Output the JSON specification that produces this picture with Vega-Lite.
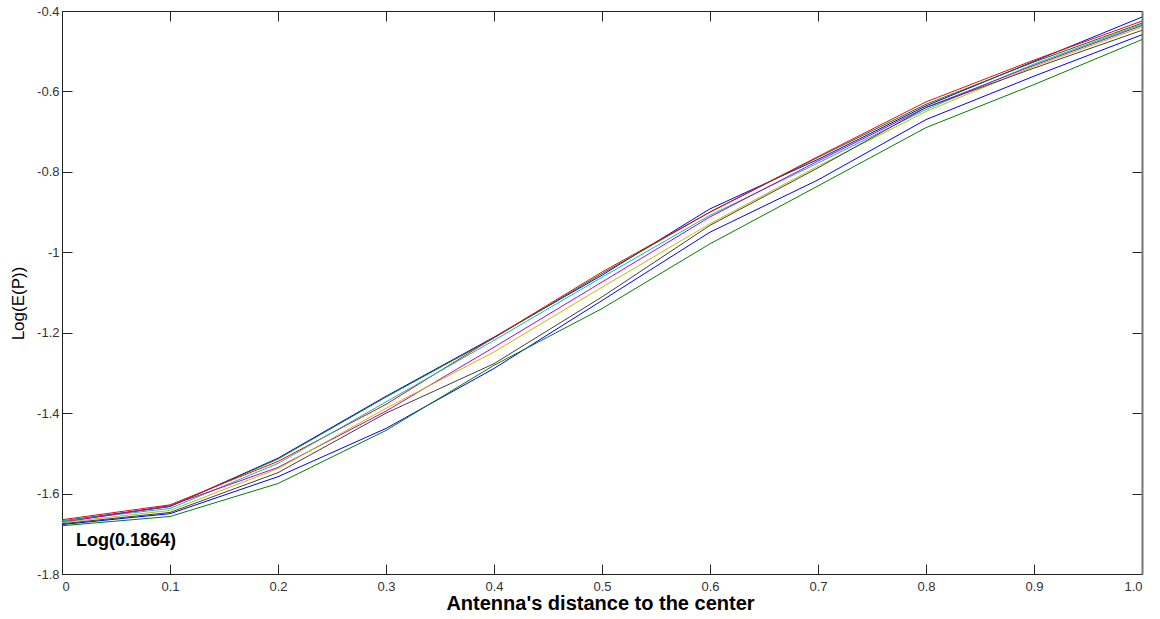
{
  "$schema": "https://vega.github.io/schema/vega-lite/v6.json",
  "width": 1080,
  "height": 563,
  "autosize": {"type": "none"},
  "padding": {"left": 62, "top": 11, "right": 18, "bottom": 45},
  "background": "white",
  "config": {
    "view": {"stroke": null},
    "font": "Arial",
    "axis": {
      "grid": false,
      "domainColor": "#222222",
      "domainWidth": 1,
      "tickColor": "#222222",
      "tickSize": -10,
      "labelFont": "Arial",
      "labelFontSize": 13,
      "labelColor": "#333333",
      "titleFont": "Arial",
      "titleColor": "#000000"
    }
  },
  "datasets": {
    "curves": [
      {"s": "s1", "x": 0.0, "y": -1.668}, {"s": "s1", "x": 0.1, "y": -1.632}, {"s": "s1", "x": 0.2, "y": -1.512}, {"s": "s1", "x": 0.3, "y": -1.358}, {"s": "s1", "x": 0.4, "y": -1.211}, {"s": "s1", "x": 0.5, "y": -1.057}, {"s": "s1", "x": 0.6, "y": -0.892}, {"s": "s1", "x": 0.7, "y": -0.769}, {"s": "s1", "x": 0.8, "y": -0.636}, {"s": "s1", "x": 0.9, "y": -0.525}, {"s": "s1", "x": 1.0, "y": -0.415},
      {"s": "s2", "x": 0.0, "y": -1.670}, {"s": "s2", "x": 0.1, "y": -1.632}, {"s": "s2", "x": 0.2, "y": -1.514}, {"s": "s2", "x": 0.3, "y": -1.360}, {"s": "s2", "x": 0.4, "y": -1.213}, {"s": "s2", "x": 0.5, "y": -1.053}, {"s": "s2", "x": 0.6, "y": -0.900}, {"s": "s2", "x": 0.7, "y": -0.764}, {"s": "s2", "x": 0.8, "y": -0.632}, {"s": "s2", "x": 0.9, "y": -0.527}, {"s": "s2", "x": 1.0, "y": -0.430},
      {"s": "s3", "x": 0.0, "y": -1.665}, {"s": "s3", "x": 0.1, "y": -1.628}, {"s": "s3", "x": 0.2, "y": -1.520}, {"s": "s3", "x": 0.3, "y": -1.378}, {"s": "s3", "x": 0.4, "y": -1.212}, {"s": "s3", "x": 0.5, "y": -1.049}, {"s": "s3", "x": 0.6, "y": -0.900}, {"s": "s3", "x": 0.7, "y": -0.762}, {"s": "s3", "x": 0.8, "y": -0.626}, {"s": "s3", "x": 0.9, "y": -0.522}, {"s": "s3", "x": 1.0, "y": -0.425},
      {"s": "s4", "x": 0.0, "y": -1.668}, {"s": "s4", "x": 0.1, "y": -1.637}, {"s": "s4", "x": 0.2, "y": -1.525}, {"s": "s4", "x": 0.3, "y": -1.372}, {"s": "s4", "x": 0.4, "y": -1.219}, {"s": "s4", "x": 0.5, "y": -1.062}, {"s": "s4", "x": 0.6, "y": -0.908}, {"s": "s4", "x": 0.7, "y": -0.778}, {"s": "s4", "x": 0.8, "y": -0.645}, {"s": "s4", "x": 0.9, "y": -0.532}, {"s": "s4", "x": 1.0, "y": -0.433},
      {"s": "s5", "x": 0.0, "y": -1.672}, {"s": "s5", "x": 0.1, "y": -1.630}, {"s": "s5", "x": 0.2, "y": -1.535}, {"s": "s5", "x": 0.3, "y": -1.395}, {"s": "s5", "x": 0.4, "y": -1.236}, {"s": "s5", "x": 0.5, "y": -1.074}, {"s": "s5", "x": 0.6, "y": -0.912}, {"s": "s5", "x": 0.7, "y": -0.773}, {"s": "s5", "x": 0.8, "y": -0.640}, {"s": "s5", "x": 0.9, "y": -0.535}, {"s": "s5", "x": 1.0, "y": -0.436},
      {"s": "s6", "x": 0.0, "y": -1.672}, {"s": "s6", "x": 0.1, "y": -1.642}, {"s": "s6", "x": 0.2, "y": -1.538}, {"s": "s6", "x": 0.3, "y": -1.388}, {"s": "s6", "x": 0.4, "y": -1.248}, {"s": "s6", "x": 0.5, "y": -1.087}, {"s": "s6", "x": 0.6, "y": -0.929}, {"s": "s6", "x": 0.7, "y": -0.786}, {"s": "s6", "x": 0.8, "y": -0.650}, {"s": "s6", "x": 0.9, "y": -0.538}, {"s": "s6", "x": 1.0, "y": -0.440},
      {"s": "s7", "x": 0.0, "y": -1.675}, {"s": "s7", "x": 0.1, "y": -1.647}, {"s": "s7", "x": 0.2, "y": -1.548}, {"s": "s7", "x": 0.3, "y": -1.400}, {"s": "s7", "x": 0.4, "y": -1.277}, {"s": "s7", "x": 0.5, "y": -1.111}, {"s": "s7", "x": 0.6, "y": -0.933}, {"s": "s7", "x": 0.7, "y": -0.790}, {"s": "s7", "x": 0.8, "y": -0.640}, {"s": "s7", "x": 0.9, "y": -0.542}, {"s": "s7", "x": 1.0, "y": -0.448},
      {"s": "s8", "x": 0.0, "y": -1.677}, {"s": "s8", "x": 0.1, "y": -1.650}, {"s": "s8", "x": 0.2, "y": -1.558}, {"s": "s8", "x": 0.3, "y": -1.438}, {"s": "s8", "x": 0.4, "y": -1.289}, {"s": "s8", "x": 0.5, "y": -1.120}, {"s": "s8", "x": 0.6, "y": -0.950}, {"s": "s8", "x": 0.7, "y": -0.820}, {"s": "s8", "x": 0.8, "y": -0.670}, {"s": "s8", "x": 0.9, "y": -0.562}, {"s": "s8", "x": 1.0, "y": -0.459},
      {"s": "s9", "x": 0.0, "y": -1.680}, {"s": "s9", "x": 0.1, "y": -1.657}, {"s": "s9", "x": 0.2, "y": -1.575}, {"s": "s9", "x": 0.3, "y": -1.443}, {"s": "s9", "x": 0.4, "y": -1.281}, {"s": "s9", "x": 0.5, "y": -1.140}, {"s": "s9", "x": 0.6, "y": -0.979}, {"s": "s9", "x": 0.7, "y": -0.835}, {"s": "s9", "x": 0.8, "y": -0.690}, {"s": "s9", "x": 0.9, "y": -0.583}, {"s": "s9", "x": 1.0, "y": -0.471}
    ],
    "note": [
      {"label": "Log(0.1864)", "x": 0.013, "y": -1.718}
    ]
  },
  "layer": [
    {
      "data": {"name": "curves"},
      "mark": {"type": "line", "strokeWidth": 1},
      "encoding": {
        "x": {
          "field": "x", "type": "quantitative",
          "scale": {"domain": [0, 1], "nice": false, "zero": false},
          "axis": {
            "orient": "bottom",
            "values": [0, 0.1, 0.2, 0.3, 0.4, 0.5, 0.6, 0.7, 0.8, 0.9, 1.0],
            "labelExpr": "datum.value == 0 ? '0' : format(datum.value, '.1f')",
            "labelPadding": 16,
            "title": "Antenna's distance to the center",
            "titleFontSize": 20,
            "titleFontWeight": "bold",
            "titleX": 538,
            "titleY": 29,
            "titleBaseline": "middle",
            "titleAlign": "center"
          }
        },
        "y": {
          "field": "y", "type": "quantitative",
          "scale": {"domain": [-1.8, -0.4], "nice": false, "zero": false},
          "axis": {
            "orient": "left",
            "values": [-1.8, -1.6, -1.4, -1.2, -1.0, -0.8, -0.6, -0.4],
            "labelExpr": "abs(datum.value + 1) < 1e-9 ? '-1' : '-' + format(abs(datum.value), '.1f')",
            "labelPadding": 13,
            "title": "Log(E(P))",
            "titleFontSize": 17,
            "titleFontWeight": "normal",
            "titleX": -44,
            "titleY": 292,
            "titleAngle": -90,
            "titleAlign": "center",
            "titleBaseline": "middle"
          }
        },
        "color": {
          "field": "s", "type": "nominal", "legend": null,
          "scale": {
            "domain": ["s1", "s2", "s3", "s4", "s5", "s6", "s7", "s8", "s9"],
            "range": ["#0000ff", "#008000", "#ff0000", "#00bfbf", "#bf00bf", "#bfbf00", "#404040", "#0000ff", "#008000"]
          }
        },
        "order": {"field": "x", "type": "quantitative"}
      }
    },
    {
      "data": {"name": "note"},
      "mark": {"type": "text", "align": "left", "baseline": "middle", "fontSize": 18, "fontWeight": "bold", "font": "Arial", "color": "#000000"},
      "encoding": {
        "x": {
          "field": "x", "type": "quantitative",
          "scale": {"domain": [0, 1], "nice": false, "zero": false},
          "axis": {"orient": "top", "values": [0, 0.1, 0.2, 0.3, 0.4, 0.5, 0.6, 0.7, 0.8, 0.9, 1.0], "labels": false, "title": null}
        },
        "y": {
          "field": "y", "type": "quantitative",
          "scale": {"domain": [-1.8, -0.4], "nice": false, "zero": false},
          "axis": {"orient": "right", "values": [-1.8, -1.6, -1.4, -1.2, -1.0, -0.8, -0.6, -0.4], "labels": false, "title": null, "domainColor": "#777777", "domainWidth": 2}
        },
        "text": {"field": "label", "type": "nominal"}
      }
    }
  ],
  "resolve": {"axis": {"x": "independent", "y": "independent"}}
}
